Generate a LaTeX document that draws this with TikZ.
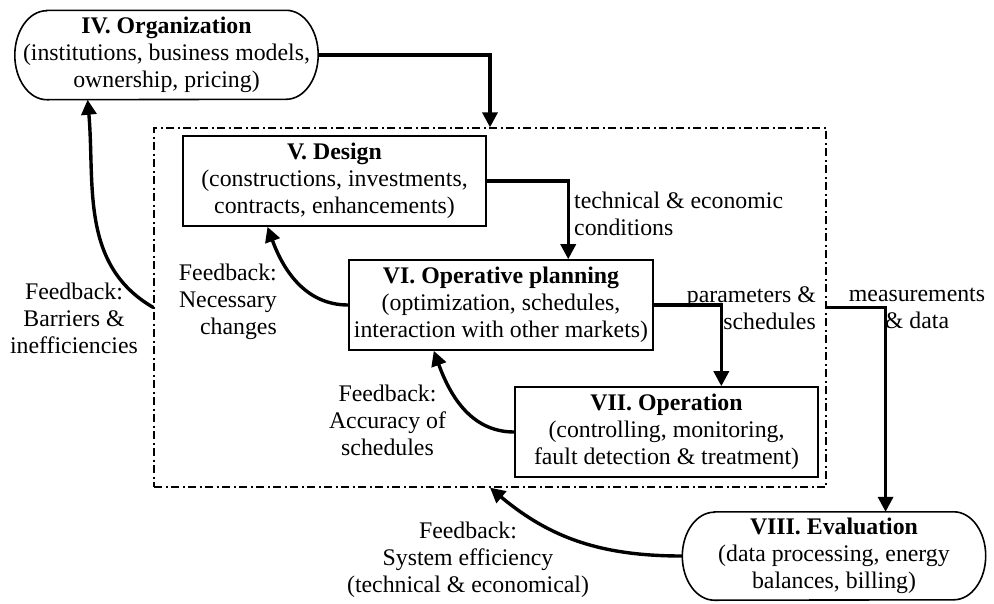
\documentclass[tikz,border=0pt]{standalone}
\usepackage{fontspec}
\setmainfont{Liberation Serif}
\usepackage{tikz}
\usetikzlibrary{arrows.meta, positioning, calc}

\begin{document}
\begin{tikzpicture}[
    x=1pt, y=1pt,
    font=\fontsize{23.8}{27}\selectfont,
    >={Triangle[length=15pt, width=15pt]},
    box/.style={draw, line width=1.6pt, minimum width=303pt, minimum height=90pt, align=center, inner sep=0pt},
    pill/.style={minimum width=303pt, minimum height=89pt, align=center, inner sep=0pt},
    pillline/.style={line width=1.6pt},
    zone/.style={draw, line width=1.3pt, dash pattern=on 8pt off 3.5pt on 2pt off 3.5pt, inner sep=0pt},
    flow/.style={->, line width=3.4pt},
    lbl/.style={inner sep=0pt},
]
\useasboundingbox (0,0) rectangle (994,-603);

% --- Dash-dot system boundary ---
\node[zone, minimum width=672pt, minimum height=359pt] (zone) at (490,-307.5) {};

% --- Stadium nodes (outer stages) ---
\node[pill] (org) at (166.5,-55) {\textbf{IV. Organization}\\(institutions, business models,\\ownership, pricing)};
\node[pill, minimum height=88pt] (eval) at (834,-556) {\textbf{VIII. Evaluation}\\(data processing, energy\\balances, billing)};
\draw[pillline] ([xshift=32pt]org.north west) -- ([xshift=-32pt]org.north east)
    arc[start angle=90, end angle=-90, x radius=32pt, y radius=44.5pt]
    -- ([xshift=32pt]org.south west)
    arc[start angle=270, end angle=90, x radius=32pt, y radius=44.5pt] -- cycle;
\draw[pillline] ([xshift=32pt]eval.north west) -- ([xshift=-32pt]eval.north east)
    arc[start angle=90, end angle=-90, x radius=32pt, y radius=44pt]
    -- ([xshift=32pt]eval.south west)
    arc[start angle=270, end angle=90, x radius=32pt, y radius=44pt] -- cycle;

% --- Inner stages ---
\node[box] (design) at (334.5,-181) {\textbf{V. Design}\\(constructions, investments,\\contracts, enhancements)};
\node[box, minimum width=304pt] (plan) at (501,-305) {\textbf{VI. Operative planning}\\(optimization, schedules,\\interaction with other markets)};
\node[box] (oper) at (666.5,-432) {\textbf{VII. Operation}\\(controlling, monitoring,\\fault detection \& treatment)};

% --- Forward flow ---
\draw[flow] (org.east) -| (zone.north);
\draw[flow] (design.east) -| ($(plan.north west)!0.72!(plan.north east)$);
\draw[flow] (plan.east) -| ($(oper.north west)!0.68!(oper.north east)$);
\draw[flow] (zone.east) -| ($(eval.north west)!0.67!(eval.north east)$);

\node[lbl, anchor=west, align=left] (techlbl) at (574,-214) {technical \& economic\\conditions};
\node[lbl, anchor=east, align=right] (parlbl) at (816,-308.5) {parameters \&\\schedules};
\node[lbl, align=center] (measlbl) at (917,-308.5) {measurements\\\& data};

% --- Feedback loops ---
\draw[flow] (oper.west) to[out=180, in=-70] ($(plan.south west)!0.28!(plan.south east)$);
\draw[flow] (plan.west) to[out=180, in=-70] ($(design.south west)!0.28!(design.south east)$);
\draw[flow] (zone.west) to[out=150, in=-85] ($(org.south west)!0.24!(org.south east)$);
\draw[flow] (eval.west) to[out=180, in=-40] (zone.south);

\node[lbl, anchor=east, align=right] (needlbl) at (277,-302) {Feedback:\\Necessary\\changes};
\node[lbl, align=center] (barrlbl) at (74,-318) {Feedback:\\Barriers \&\\inefficiencies};
\node[lbl, align=center] (acculbl) at (387.5,-420) {Feedback:\\Accuracy of\\schedules};
\node[lbl, align=center] (efflbl) at (468,-560) {Feedback:\\System efficiency\\(technical \& economical)};

\end{tikzpicture}
\end{document}
